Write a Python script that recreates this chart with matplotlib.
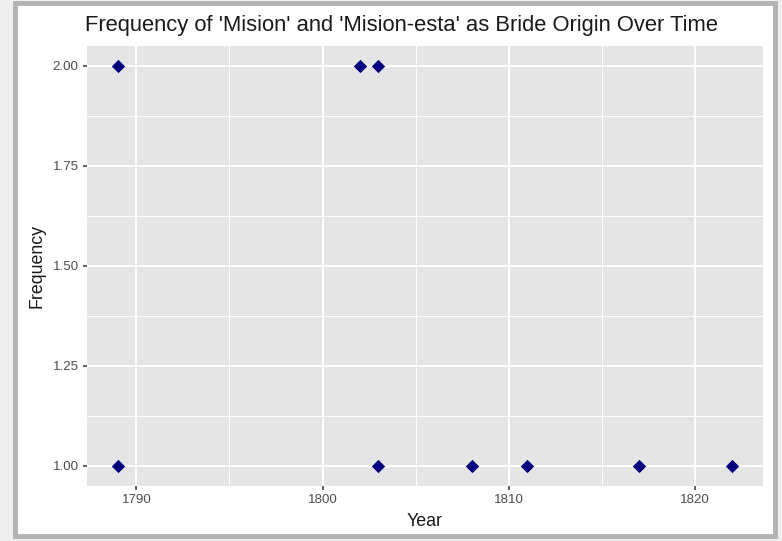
import matplotlib
matplotlib.use("Agg")
import matplotlib.pyplot as plt
from matplotlib.patches import Rectangle
from matplotlib.ticker import FixedLocator

years = [1789, 1789, 1802, 1803, 1803, 1808, 1811, 1817, 1822]
freq = [2, 1, 2, 2, 1, 1, 1, 1, 1]
x_ticks = [1790, 1800, 1810, 1820]
y_ticks = [1.00, 1.25, 1.50, 1.75, 2.00]
y_tick_labels = ["1.00", "1.25", "1.50", "1.75", "2.00"]

plt.rcParams['font.family'] = ['Liberation Sans', 'DejaVu Sans']

W, H = 782, 541
fig = plt.figure(figsize=(W / 100, H / 100), dpi=100)
fig.patch.set_facecolor("#efefef")

# screenshot frame
fig.patches.append(Rectangle((15 / W, 5 / H), (775 - 15) / W, (538 - 5) / H,
                             transform=fig.transFigure, facecolor="white",
                             edgecolor="#b3b3b3", linewidth=3.5, zorder=-10))

left, right, top, bottom = 87, 763, 46, 486
ax = fig.add_axes([left / W, 1 - bottom / H, (right - left) / W, (bottom - top) / H])
ax.set_facecolor("#e5e5e5")

xmin, xmax = min(years), max(years)
xr = xmax - xmin
ax.set_xlim(xmin - 0.05 * xr, xmax + 0.05 * xr)
ax.set_ylim(1 - 0.05, 2 + 0.05)

ax.xaxis.set_major_locator(FixedLocator(x_ticks))
ax.xaxis.set_minor_locator(FixedLocator([1795, 1805, 1815]))
ax.yaxis.set_major_locator(FixedLocator(y_ticks))
ax.yaxis.set_minor_locator(FixedLocator([1.125, 1.375, 1.625, 1.875]))
ax.set_yticklabels(y_tick_labels)

ax.grid(which="major", color="white", linewidth=1.4)
ax.grid(which="minor", color="white", linewidth=0.7)
ax.set_axisbelow(True)
for s in ax.spines.values():
    s.set_visible(False)

ax.tick_params(which="major", length=3, width=1.1, color="#333333",
               labelcolor="#4d4d4d", labelsize=9.6, pad=3)
ax.tick_params(which="minor", length=0)

ax.scatter(years, freq, marker="D", s=46, color="#00007f", zorder=3, linewidths=0)

ax.set_xlabel("Year", fontsize=12.8, color="#1a1a1a", labelpad=5)
ax.set_ylabel("Frequency", fontsize=12.8, color="#1a1a1a", labelpad=5)
fig.text(left / W - 2 / W, 1 - 25 / H, "Frequency of 'Mision' and 'Mision-esta' as Bride Origin Over Time",
         fontsize=15.8, color="#1a1a1a", ha="left", va="center")

fig.savefig("out.png", dpi=100, facecolor=fig.get_facecolor())
